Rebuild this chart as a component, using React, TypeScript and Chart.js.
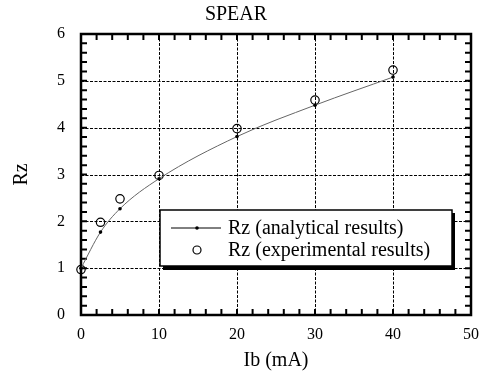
import React, { useEffect, useRef } from "react";
import { Chart, registerables } from "chart.js";

Chart.register(...registerables);

const TITLE = "SPEAR";
const X_TITLE = "Ib (mA)";
const Y_TITLE = "Rz";
const ANALYTICAL_LABEL = "Rz (analytical results)";
const EXPERIMENTAL_LABEL = "Rz (experimental results)";

const analyticalIb = [0, 2.5, 5, 10, 20, 30, 40];
const analyticalRz = [1.0, 1.77, 2.27, 2.91, 3.81, 4.48, 5.08];

const experimentalIb = [0, 2.5, 5, 10, 20, 30, 40];
const experimentalRz = [0.97, 1.98, 2.48, 2.98, 3.98, 4.59, 5.23];

const X_MIN = 0;
const X_MAX = 50;
const X_MAJOR = 10;
const X_MINOR = 2;
const Y_MIN = 0;
const Y_MAX = 6;
const Y_MAJOR = 1;
const Y_MINOR = 0.2;

const FONT = "'Liberation Serif', 'Times New Roman', serif";

const framePlugin = {
  id: "frameAndGrid",
  beforeDatasetsDraw(chart: any) {
    const { ctx, chartArea: ca, scales } = chart;
    const xs = scales.x;
    const ys = scales.y;
    ctx.save();
    ctx.strokeStyle = "#000";
    ctx.lineWidth = 1;
    ctx.setLineDash([3, 1.5]);
    for (let v = X_MIN + X_MAJOR; v < X_MAX; v += X_MAJOR) {
      const px = Math.round(xs.getPixelForValue(v)) + 0.5;
      ctx.beginPath();
      ctx.moveTo(px, ca.top);
      ctx.lineTo(px, ca.bottom);
      ctx.stroke();
    }
    for (let v = Y_MIN + Y_MAJOR; v < Y_MAX; v += Y_MAJOR) {
      const py = Math.round(ys.getPixelForValue(v)) + 0.5;
      ctx.beginPath();
      ctx.moveTo(ca.left, py);
      ctx.lineTo(ca.right, py);
      ctx.stroke();
    }
    ctx.lineWidth = 2;
    ctx.setLineDash([]);
    const tl = 6;
    const nx = Math.round((X_MAX - X_MIN) / X_MINOR);
    for (let i = 1; i < nx; i++) {
      const px = xs.getPixelForValue(X_MIN + i * X_MINOR);
      ctx.beginPath();
      ctx.moveTo(px, ca.bottom);
      ctx.lineTo(px, ca.bottom - tl);
      ctx.moveTo(px, ca.top);
      ctx.lineTo(px, ca.top + tl);
      ctx.stroke();
    }
    const ny = Math.round((Y_MAX - Y_MIN) / Y_MINOR);
    for (let i = 1; i < ny; i++) {
      const py = ys.getPixelForValue(Y_MIN + i * Y_MINOR);
      ctx.beginPath();
      ctx.moveTo(ca.left, py);
      ctx.lineTo(ca.left + tl, py);
      ctx.moveTo(ca.right, py);
      ctx.lineTo(ca.right - tl, py);
      ctx.stroke();
    }
    ctx.lineWidth = 2.5;
    ctx.strokeRect(ca.left, ca.top, ca.right - ca.left, ca.bottom - ca.top);
    ctx.restore();
  },
  afterDatasetsDraw(chart: any) {
    const { ctx, chartArea: ca } = chart;
    ctx.save();
    const lx = ca.left + 79;
    const ly = ca.top + 176;
    const lw = 292;
    const lh = 56;
    ctx.fillStyle = "#000";
    ctx.fillRect(lx + 3, ly + 3, lw, lh + 1);
    ctx.fillStyle = "#fff";
    ctx.fillRect(lx, ly, lw, lh);
    ctx.lineWidth = 1.5;
    ctx.strokeStyle = "#000";
    ctx.strokeRect(lx, ly, lw, lh);

    const row1 = ly + 18;
    const row2 = ly + 40;
    ctx.lineWidth = 1;
    ctx.beginPath();
    ctx.moveTo(lx + 11, row1);
    ctx.lineTo(lx + 61, row1);
    ctx.stroke();
    ctx.fillStyle = "#000";
    ctx.beginPath();
    ctx.arc(lx + 37, row1, 1.8, 0, Math.PI * 2);
    ctx.fill();
    ctx.beginPath();
    ctx.lineWidth = 1.2;
    ctx.arc(lx + 37, row2, 4, 0, Math.PI * 2);
    ctx.stroke();

    ctx.font = `20px ${FONT}`;
    ctx.textAlign = "left";
    ctx.textBaseline = "middle";
    ctx.fillStyle = "#000";
    ctx.fillText(ANALYTICAL_LABEL, lx + 68, row1 + 1);
    ctx.fillText(EXPERIMENTAL_LABEL, lx + 68, row2 + 1);
    ctx.restore();
  },
};

export default function App() {
  const ref = useRef<HTMLCanvasElement | null>(null);
  useEffect(() => {
    if (!ref.current) return;
    const chart = new Chart(ref.current, {
      type: "line",
      data: {
        datasets: [
          {
            label: ANALYTICAL_LABEL,
            data: analyticalIb.map((x, i) => ({ x, y: analyticalRz[i] })),
            borderColor: "#666",
            borderWidth: 1,
            pointRadius: 1.8,
            pointBackgroundColor: "#000",
            pointBorderColor: "#000",
            pointBorderWidth: 0,
            cubicInterpolationMode: "monotone",
            fill: false,
            clip: false,
          },
          {
            label: EXPERIMENTAL_LABEL,
            data: experimentalIb.map((x, i) => ({ x, y: experimentalRz[i] })),
            showLine: false,
            pointRadius: 4.2,
            pointBackgroundColor: "rgba(0,0,0,0)",
            pointBorderColor: "#000",
            pointBorderWidth: 1.2,
            clip: false,
          },
        ],
      },
      options: {
        animation: false,
        responsive: false,
        devicePixelRatio: 1,
        layout: { padding: { left: 0, right: 17, top: 0, bottom: 0 } },
        plugins: {
          legend: { display: false },
          tooltip: { enabled: false },
          title: {
            display: true,
            text: TITLE,
            color: "#000",
            font: { family: FONT, size: 20, weight: "normal" },
            padding: { top: 3, bottom: 7 },
          },
        },
        scales: {
          x: {
            type: "linear",
            min: X_MIN,
            max: X_MAX,
            afterFit: (s: any) => {
              s.height = 58;
            },
            ticks: {
              stepSize: X_MAJOR,
              color: "#000",
              font: { family: FONT, size: 16 },
              padding: 10,
              maxRotation: 0,
            },
            grid: { display: false, drawTicks: false, tickLength: 0 },
            border: { display: false },
            title: {
              display: true,
              text: X_TITLE,
              color: "#000",
              font: { family: FONT, size: 20 },
              padding: { top: 0, bottom: 0 },
            },
          },
          y: {
            type: "linear",
            min: Y_MIN,
            max: Y_MAX,
            afterFit: (s: any) => {
              s.width = 81;
            },
            ticks: {
              stepSize: Y_MAJOR,
              color: "#000",
              font: { family: FONT, size: 16 },
              padding: 16,
            },
            grid: { display: false, drawTicks: false, tickLength: 0 },
            border: { display: false },
            title: {
              display: true,
              text: Y_TITLE,
              color: "#000",
              font: { family: FONT, size: 20 },
              padding: { top: 10, bottom: 0 },
            },
          },
        },
      },
      plugins: [framePlugin],
    } as any);
    return () => chart.destroy();
  }, []);
  return (
    <div style={{ position: "fixed", left: 0, top: 0, width: 489, height: 373, background: "#fff" }}>
      <canvas ref={ref} width={489} height={373} style={{ width: 489, height: 373 }} />
    </div>
  );
}
